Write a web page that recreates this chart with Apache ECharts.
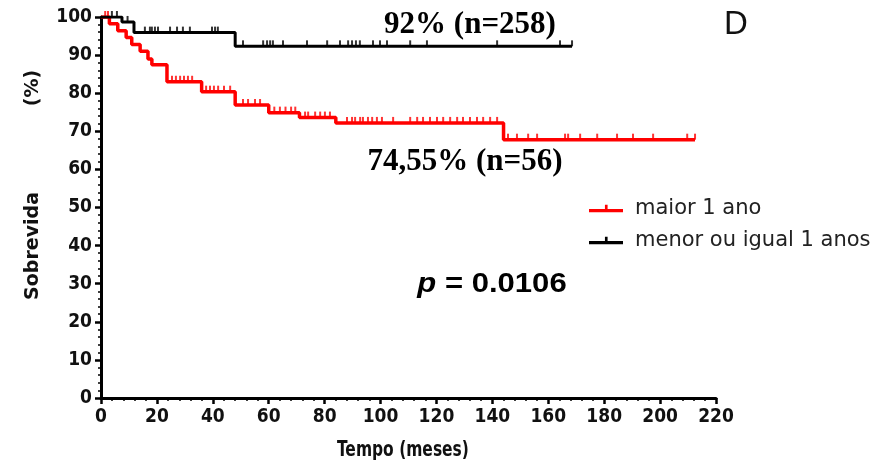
<!DOCTYPE html>
<html><head><meta charset="utf-8">
<script src="https://cdn.jsdelivr.net/npm/echarts@6/dist/echarts.min.js"></script>
<style>html,body{margin:0;padding:0;background:#fff}#c{width:890px;height:466px}</style>
</head><body><div id="c"></div>
<script>
// Kaplan-Meier step data: [time (months), survival %] at each change
const redSteps = [[0,100],[3,98.2],[6,96.4],[9,94.6],[11,92.8],[14,91.0],[16.8,89.0],[18.2,87.5],[23.6,83.0],[36,80.4],[48,76.9],[60,74.9],[71,73.6],[84,72.2],[144,67.8],[212.5,67.8]];
const blackSteps = [[0,100],[7.5,98.7],[11.8,95.9],[48,92.3],[168.5,92.3]];
// censored observation times (months)
const redCensor = [1.5,2.5,25.4,26.8,28.3,29.7,31.1,32.6,37.6,39.0,40.4,41.9,44.0,46.2,50.8,52.6,55.1,56.9,62,64,66,68,69.5,73,74.1,76.6,78.4,80.1,81.9,88,89.8,90.9,92.7,93.7,95.5,97,98.7,100.5,104.5,110.6,113.1,115.2,117.7,120.2,122.4,124.9,127.4,129.5,132,134.5,136.7,139.2,141.7,145.6,148.8,152.8,156,166,167.1,171.4,177.5,184.6,190.3,197.5,209.7,212.5];
const blackCensor = [3.9,5.7,9.5,15.7,17.5,18.2,19.3,20.4,24.7,27.2,29.3,31.8,39.7,40.8,41.8,50.8,58,59.4,60.5,61.5,65.1,73.7,80.9,85.5,88.4,89.8,91.2,92.6,97.3,99.8,102.3,110.6,116.6,141.7,164.2,168.5];
const seriesNames = ['maior 1 ano','menor ou igual 1 anos'];
const xTicks = [0,20,40,60,80,100,120,140,160,180,200,220];
const yTicks = [0,10,20,30,40,50,60,70,80,90,100];
const xTitle = 'Tempo (meses)';

function levelAt(steps, t){ let v = steps[0][1]; for (const s of steps){ if (s[0] <= t) v = s[1]; } return v; }
const redC = redCensor.map(t => [t, levelAt(redSteps, t)]);
const blackC = blackCensor.map(t => [t, levelAt(blackSteps, t)]);

const tickFont = 'DejaVu Sans Condensed, sans-serif';
const chart = echarts.init(document.getElementById('c'));
const iconPath = 'path://M0,6h32v3h-32z M15,2h2.5v5h-2.5z';
chart.setOption({
  animation: false,
  grid: {left: 101, right: 174, top: 17, bottom: 68},
  xAxis: {type: 'value', min: xTicks[0], max: xTicks[xTicks.length-1], interval: 20,
    axisLine: {onZero: false, lineStyle: {color: '#000', width: 3}},
    axisTick: {length: 6, lineStyle: {color: '#000', width: 2.5}},
    minorTick: {show: true, splitNumber: 5, length: 3, lineStyle: {color: '#000', width: 1.5}},
    splitLine: {show: false},
    axisLabel: {color: '#111', fontSize: 19, fontFamily: tickFont, fontWeight: 'bold', margin: 10}},
  yAxis: {type: 'value', min: yTicks[0], max: yTicks[yTicks.length-1], interval: 10,
    axisLine: {show: true, onZero: false, lineStyle: {color: '#000', width: 3}},
    axisTick: {show: true, length: 6, lineStyle: {color: '#000', width: 2.5}},
    minorTick: {show: true, splitNumber: 5, length: 3, lineStyle: {color: '#000', width: 1.5}},
    splitLine: {show: false},
    axisLabel: {color: '#111', fontSize: 19, fontFamily: tickFont, fontWeight: 'bold', margin: 9}},
  legend: {orient: 'vertical', left: 584, top: 193, itemWidth: 34, itemHeight: 10, itemGap: 11,
    data: [{name: seriesNames[0], icon: iconPath, itemStyle: {color: '#ff0000'}},
           {name: seriesNames[1], icon: iconPath, itemStyle: {color: '#000'}}],
    textStyle: {fontSize: 21, color: '#222', fontFamily: 'DejaVu Sans, sans-serif', padding: [0,0,0,7]}},
  series: [
    {name: seriesNames[0], type: 'line', step: 'end', data: redSteps, showSymbol: false, symbol: 'none',
      lineStyle: {color: '#ff0000', width: 3.5}, itemStyle: {color: '#ff0000'}, z: 3},
    {name: seriesNames[1], type: 'line', step: 'end', data: blackSteps, showSymbol: false, symbol: 'none',
      lineStyle: {color: '#000', width: 3}, itemStyle: {color: '#000'}, z: 4},
    {name: seriesNames[0], type: 'scatter', data: redC, symbol: 'rect', symbolSize: [2, 6], symbolOffset: [0, -3],
      itemStyle: {color: '#ff0000'}, z: 3},
    {name: seriesNames[1], type: 'scatter', data: blackC, symbol: 'rect', symbolSize: [2, 6], symbolOffset: [0, -3],
      itemStyle: {color: '#000'}, z: 4}
  ],
  graphic: [
    {type: 'text', x: 470, y: 25, style: {text: '92% (n=258)', font: 'bold 31px "Liberation Serif", "Times New Roman", serif', fill: '#000', align: 'center', verticalAlign: 'middle'}},
    {type: 'text', x: 465, y: 162, style: {text: '74,55% (n=56)', font: 'bold 31px "Liberation Serif", "Times New Roman", serif', fill: '#000', align: 'center', verticalAlign: 'middle'}},
    {type: 'text', x: 736, y: 25, style: {text: 'D', font: '33px "Liberation Sans", Arial, sans-serif', fill: '#111', align: 'center', verticalAlign: 'middle'}},
    {type: 'text', x: 492, y: 285, scaleX: 1.15, style: {
      rich: {p: {fontSize: 27, fontWeight: 'bold', fontStyle: 'italic', fontFamily: 'Liberation Sans, Arial, sans-serif', fill: '#000'},
             r: {fontSize: 27, fontWeight: 'bold', fontFamily: 'Liberation Sans, Arial, sans-serif', fill: '#000'}},
      text: '{p|p}{r| = 0.0106}', align: 'center', verticalAlign: 'middle'}},
    {type: 'text', x: 403, y: 451, scaleX: 0.82, style: {text: xTitle, font: 'bold 21px "DejaVu Sans Condensed", sans-serif', fill: '#111', align: 'center', verticalAlign: 'middle'}},
    {type: 'text', x: 33, y: 246, rotation: Math.PI/2, style: {text: 'Sobrevida', font: 'bold 19px "DejaVu Sans", sans-serif', fill: '#111', align: 'center', verticalAlign: 'middle'}},
    {type: 'text', x: 33, y: 88, rotation: Math.PI/2, style: {text: '(%)', font: 'bold 19px "DejaVu Sans", sans-serif', fill: '#111', align: 'center', verticalAlign: 'middle'}}
  ]
});
</script></body></html>
